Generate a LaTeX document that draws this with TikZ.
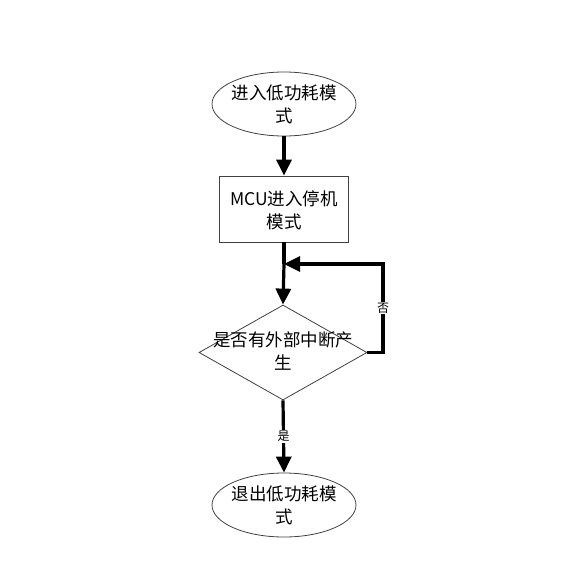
\documentclass[tikz,border=0pt]{standalone}
\usepackage{fontspec}
\newfontfamily\cjk{Noto Sans CJK SC}
\usetikzlibrary{shapes.geometric,arrows.meta}
\begin{document}
\begin{tikzpicture}[x=1pt,y=-1pt,
  shapeline/.style={draw=black!75,line width=0.8pt},
  txt/.style={font=\cjk\fontsize{17.5}{23}\selectfont,align=center,text=black},
  oval/.style={ellipse,shapeline,minimum width=144pt,minimum height=64pt,inner sep=0pt},
  flowbox/.style={rectangle,shapeline,minimum width=129pt,minimum height=66pt,inner sep=0pt},
  decide/.style={diamond,shapeline,minimum width=168pt,minimum height=95pt,inner sep=0pt,aspect=1.77},
  flow/.style={line width=3.2pt,-{Triangle[width=15pt,length=16pt]}},
  lbl/.style={font=\cjk\fontsize{12}{14}\selectfont,fill=white,inner sep=1pt}]
\useasboundingbox (0,0) rectangle (580,587);
\node[oval] (start) at (284,104) {};
\node[txt] at (284,104) {进入低功耗模\\式};
\node[flowbox] (mcu) at (284,209) {};
\node[txt] at (284,210) {MCU进入停机\\模式};
\node[decide] (q) at (283,352.5) {};
\node[txt] at (283,351) {是否有外部中断产\\生};
\node[oval] (stop) at (284,505) {};
\node[txt] at (284,505) {退出低功耗模\\式};
\coordinate (join) at (284,264);
\coordinate (rc) at (383,352.5);
\coordinate (rt) at (383,264);
\draw[flow] (start.south) -- (mcu.north);
\draw[line width=3.2pt] (mcu.south) -- (join);
\draw[flow] (join) -- (q.north);
\draw[flow] (q.east) -- (rc) -- node[lbl,pos=0.5]{否} (rt) -- (join);
\draw[flow] (q.south) -- node[lbl,pos=0.5]{是} (stop.north);
\end{tikzpicture}
\end{document}
